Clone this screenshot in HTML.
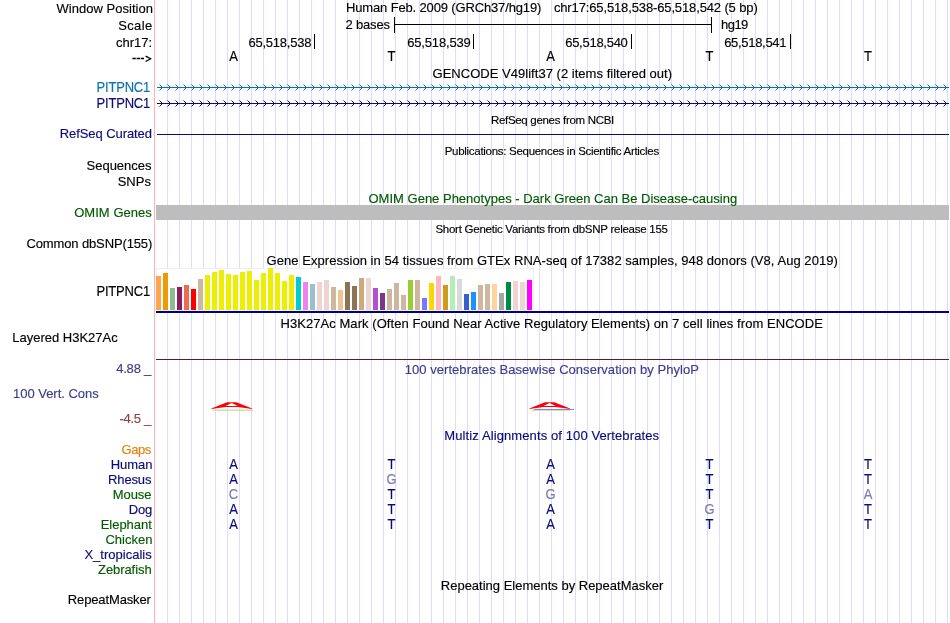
<!DOCTYPE html>
<html><head><meta charset="utf-8"><title>UCSC Genome Browser</title>
<style>
html,body{margin:0;padding:0;background:#fff;}
body{width:950px;height:623px;overflow:hidden;position:relative;}
svg{position:absolute;left:0;top:0;display:block;will-change:transform;}
text{font-family:"Liberation Sans",sans-serif;stroke-width:0.15px;}
</style></head><body>
<svg width="950" height="623" viewBox="0 0 950 623">
<rect x="167" y="0" width="1" height="623" fill="#dcdcff"/>
<rect x="179" y="0" width="1" height="623" fill="#dcdcff"/>
<rect x="191" y="0" width="1" height="623" fill="#dcdcff"/>
<rect x="203" y="0" width="1" height="623" fill="#dcdcff"/>
<rect x="215" y="0" width="1" height="623" fill="#dcdcff"/>
<rect x="227" y="0" width="1" height="623" fill="#dcdcff"/>
<rect x="239" y="0" width="1" height="623" fill="#dcdcff"/>
<rect x="251" y="0" width="1" height="623" fill="#dcdcff"/>
<rect x="263" y="0" width="1" height="623" fill="#dcdcff"/>
<rect x="275" y="0" width="1" height="623" fill="#dcdcff"/>
<rect x="287" y="0" width="1" height="623" fill="#dcdcff"/>
<rect x="299" y="0" width="1" height="623" fill="#dcdcff"/>
<rect x="311" y="0" width="1" height="623" fill="#dcdcff"/>
<rect x="323" y="0" width="1" height="623" fill="#dcdcff"/>
<rect x="335" y="0" width="1" height="623" fill="#dcdcff"/>
<rect x="347" y="0" width="1" height="623" fill="#dcdcff"/>
<rect x="359" y="0" width="1" height="623" fill="#dcdcff"/>
<rect x="371" y="0" width="1" height="623" fill="#dcdcff"/>
<rect x="383" y="0" width="1" height="623" fill="#dcdcff"/>
<rect x="395" y="0" width="1" height="623" fill="#dcdcff"/>
<rect x="407" y="0" width="1" height="623" fill="#dcdcff"/>
<rect x="419" y="0" width="1" height="623" fill="#dcdcff"/>
<rect x="431" y="0" width="1" height="623" fill="#dcdcff"/>
<rect x="443" y="0" width="1" height="623" fill="#dcdcff"/>
<rect x="455" y="0" width="1" height="623" fill="#dcdcff"/>
<rect x="467" y="0" width="1" height="623" fill="#dcdcff"/>
<rect x="479" y="0" width="1" height="623" fill="#dcdcff"/>
<rect x="491" y="0" width="1" height="623" fill="#dcdcff"/>
<rect x="503" y="0" width="1" height="623" fill="#dcdcff"/>
<rect x="515" y="0" width="1" height="623" fill="#dcdcff"/>
<rect x="527" y="0" width="1" height="623" fill="#dcdcff"/>
<rect x="539" y="0" width="1" height="623" fill="#dcdcff"/>
<rect x="551" y="0" width="1" height="623" fill="#dcdcff"/>
<rect x="563" y="0" width="1" height="623" fill="#dcdcff"/>
<rect x="575" y="0" width="1" height="623" fill="#dcdcff"/>
<rect x="587" y="0" width="1" height="623" fill="#dcdcff"/>
<rect x="599" y="0" width="1" height="623" fill="#dcdcff"/>
<rect x="611" y="0" width="1" height="623" fill="#dcdcff"/>
<rect x="623" y="0" width="1" height="623" fill="#dcdcff"/>
<rect x="635" y="0" width="1" height="623" fill="#dcdcff"/>
<rect x="647" y="0" width="1" height="623" fill="#dcdcff"/>
<rect x="659" y="0" width="1" height="623" fill="#dcdcff"/>
<rect x="671" y="0" width="1" height="623" fill="#dcdcff"/>
<rect x="683" y="0" width="1" height="623" fill="#dcdcff"/>
<rect x="695" y="0" width="1" height="623" fill="#dcdcff"/>
<rect x="707" y="0" width="1" height="623" fill="#dcdcff"/>
<rect x="719" y="0" width="1" height="623" fill="#dcdcff"/>
<rect x="731" y="0" width="1" height="623" fill="#dcdcff"/>
<rect x="743" y="0" width="1" height="623" fill="#dcdcff"/>
<rect x="755" y="0" width="1" height="623" fill="#dcdcff"/>
<rect x="767" y="0" width="1" height="623" fill="#dcdcff"/>
<rect x="779" y="0" width="1" height="623" fill="#dcdcff"/>
<rect x="791" y="0" width="1" height="623" fill="#dcdcff"/>
<rect x="803" y="0" width="1" height="623" fill="#dcdcff"/>
<rect x="815" y="0" width="1" height="623" fill="#dcdcff"/>
<rect x="827" y="0" width="1" height="623" fill="#dcdcff"/>
<rect x="839" y="0" width="1" height="623" fill="#dcdcff"/>
<rect x="851" y="0" width="1" height="623" fill="#dcdcff"/>
<rect x="863" y="0" width="1" height="623" fill="#dcdcff"/>
<rect x="875" y="0" width="1" height="623" fill="#dcdcff"/>
<rect x="887" y="0" width="1" height="623" fill="#dcdcff"/>
<rect x="899" y="0" width="1" height="623" fill="#dcdcff"/>
<rect x="911" y="0" width="1" height="623" fill="#dcdcff"/>
<rect x="923" y="0" width="1" height="623" fill="#dcdcff"/>
<rect x="935" y="0" width="1" height="623" fill="#dcdcff"/>
<rect x="947" y="0" width="1" height="623" fill="#dcdcff"/>
<rect x="154" y="0" width="1" height="623" fill="#ffb0b0"/>
<path d="M132.4,58.5h3.4M136.6,58.5h3.4M140.7,58.5h3.3" stroke="#000" stroke-width="1.3"/>
<path d="M145.6,56.1L150.6,58.8L145.6,61.5" stroke="#000" stroke-width="1.3" fill="none"/>
<rect x="394" y="17" width="1" height="16" fill="#000000"/>
<rect x="711" y="17" width="1" height="16" fill="#000000"/>
<rect x="394" y="24" width="318" height="1" fill="#000000"/>
<rect x="314" y="34" width="1" height="15" fill="#000000"/>
<rect x="473" y="34" width="1" height="15" fill="#000000"/>
<rect x="631" y="34" width="1" height="15" fill="#000000"/>
<rect x="790" y="34" width="1" height="15" fill="#000000"/>
<rect x="157" y="87" width="792" height="1" fill="#0c70b4"/>
<path d="M160,85h1v1h-1zM161,86h1v3h-1zM160,89h1v1h-1zM168,85h1v1h-1zM169,86h1v3h-1zM168,89h1v1h-1zM176,85h1v1h-1zM177,86h1v3h-1zM176,89h1v1h-1zM184,85h1v1h-1zM185,86h1v3h-1zM184,89h1v1h-1zM192,85h1v1h-1zM193,86h1v3h-1zM192,89h1v1h-1zM200,85h1v1h-1zM201,86h1v3h-1zM200,89h1v1h-1zM208,85h1v1h-1zM209,86h1v3h-1zM208,89h1v1h-1zM216,85h1v1h-1zM217,86h1v3h-1zM216,89h1v1h-1zM224,85h1v1h-1zM225,86h1v3h-1zM224,89h1v1h-1zM232,85h1v1h-1zM233,86h1v3h-1zM232,89h1v1h-1zM240,85h1v1h-1zM241,86h1v3h-1zM240,89h1v1h-1zM248,85h1v1h-1zM249,86h1v3h-1zM248,89h1v1h-1zM256,85h1v1h-1zM257,86h1v3h-1zM256,89h1v1h-1zM264,85h1v1h-1zM265,86h1v3h-1zM264,89h1v1h-1zM272,85h1v1h-1zM273,86h1v3h-1zM272,89h1v1h-1zM280,85h1v1h-1zM281,86h1v3h-1zM280,89h1v1h-1zM288,85h1v1h-1zM289,86h1v3h-1zM288,89h1v1h-1zM296,85h1v1h-1zM297,86h1v3h-1zM296,89h1v1h-1zM304,85h1v1h-1zM305,86h1v3h-1zM304,89h1v1h-1zM312,85h1v1h-1zM313,86h1v3h-1zM312,89h1v1h-1zM320,85h1v1h-1zM321,86h1v3h-1zM320,89h1v1h-1zM328,85h1v1h-1zM329,86h1v3h-1zM328,89h1v1h-1zM336,85h1v1h-1zM337,86h1v3h-1zM336,89h1v1h-1zM344,85h1v1h-1zM345,86h1v3h-1zM344,89h1v1h-1zM352,85h1v1h-1zM353,86h1v3h-1zM352,89h1v1h-1zM360,85h1v1h-1zM361,86h1v3h-1zM360,89h1v1h-1zM368,85h1v1h-1zM369,86h1v3h-1zM368,89h1v1h-1zM376,85h1v1h-1zM377,86h1v3h-1zM376,89h1v1h-1zM384,85h1v1h-1zM385,86h1v3h-1zM384,89h1v1h-1zM392,85h1v1h-1zM393,86h1v3h-1zM392,89h1v1h-1zM400,85h1v1h-1zM401,86h1v3h-1zM400,89h1v1h-1zM408,85h1v1h-1zM409,86h1v3h-1zM408,89h1v1h-1zM416,85h1v1h-1zM417,86h1v3h-1zM416,89h1v1h-1zM424,85h1v1h-1zM425,86h1v3h-1zM424,89h1v1h-1zM432,85h1v1h-1zM433,86h1v3h-1zM432,89h1v1h-1zM440,85h1v1h-1zM441,86h1v3h-1zM440,89h1v1h-1zM448,85h1v1h-1zM449,86h1v3h-1zM448,89h1v1h-1zM456,85h1v1h-1zM457,86h1v3h-1zM456,89h1v1h-1zM464,85h1v1h-1zM465,86h1v3h-1zM464,89h1v1h-1zM472,85h1v1h-1zM473,86h1v3h-1zM472,89h1v1h-1zM480,85h1v1h-1zM481,86h1v3h-1zM480,89h1v1h-1zM488,85h1v1h-1zM489,86h1v3h-1zM488,89h1v1h-1zM496,85h1v1h-1zM497,86h1v3h-1zM496,89h1v1h-1zM504,85h1v1h-1zM505,86h1v3h-1zM504,89h1v1h-1zM512,85h1v1h-1zM513,86h1v3h-1zM512,89h1v1h-1zM520,85h1v1h-1zM521,86h1v3h-1zM520,89h1v1h-1zM528,85h1v1h-1zM529,86h1v3h-1zM528,89h1v1h-1zM536,85h1v1h-1zM537,86h1v3h-1zM536,89h1v1h-1zM544,85h1v1h-1zM545,86h1v3h-1zM544,89h1v1h-1zM552,85h1v1h-1zM553,86h1v3h-1zM552,89h1v1h-1zM560,85h1v1h-1zM561,86h1v3h-1zM560,89h1v1h-1zM568,85h1v1h-1zM569,86h1v3h-1zM568,89h1v1h-1zM576,85h1v1h-1zM577,86h1v3h-1zM576,89h1v1h-1zM584,85h1v1h-1zM585,86h1v3h-1zM584,89h1v1h-1zM592,85h1v1h-1zM593,86h1v3h-1zM592,89h1v1h-1zM600,85h1v1h-1zM601,86h1v3h-1zM600,89h1v1h-1zM608,85h1v1h-1zM609,86h1v3h-1zM608,89h1v1h-1zM616,85h1v1h-1zM617,86h1v3h-1zM616,89h1v1h-1zM624,85h1v1h-1zM625,86h1v3h-1zM624,89h1v1h-1zM632,85h1v1h-1zM633,86h1v3h-1zM632,89h1v1h-1zM640,85h1v1h-1zM641,86h1v3h-1zM640,89h1v1h-1zM648,85h1v1h-1zM649,86h1v3h-1zM648,89h1v1h-1zM656,85h1v1h-1zM657,86h1v3h-1zM656,89h1v1h-1zM664,85h1v1h-1zM665,86h1v3h-1zM664,89h1v1h-1zM672,85h1v1h-1zM673,86h1v3h-1zM672,89h1v1h-1zM680,85h1v1h-1zM681,86h1v3h-1zM680,89h1v1h-1zM688,85h1v1h-1zM689,86h1v3h-1zM688,89h1v1h-1zM696,85h1v1h-1zM697,86h1v3h-1zM696,89h1v1h-1zM704,85h1v1h-1zM705,86h1v3h-1zM704,89h1v1h-1zM712,85h1v1h-1zM713,86h1v3h-1zM712,89h1v1h-1zM720,85h1v1h-1zM721,86h1v3h-1zM720,89h1v1h-1zM728,85h1v1h-1zM729,86h1v3h-1zM728,89h1v1h-1zM736,85h1v1h-1zM737,86h1v3h-1zM736,89h1v1h-1zM744,85h1v1h-1zM745,86h1v3h-1zM744,89h1v1h-1zM752,85h1v1h-1zM753,86h1v3h-1zM752,89h1v1h-1zM760,85h1v1h-1zM761,86h1v3h-1zM760,89h1v1h-1zM768,85h1v1h-1zM769,86h1v3h-1zM768,89h1v1h-1zM776,85h1v1h-1zM777,86h1v3h-1zM776,89h1v1h-1zM784,85h1v1h-1zM785,86h1v3h-1zM784,89h1v1h-1zM792,85h1v1h-1zM793,86h1v3h-1zM792,89h1v1h-1zM800,85h1v1h-1zM801,86h1v3h-1zM800,89h1v1h-1zM808,85h1v1h-1zM809,86h1v3h-1zM808,89h1v1h-1zM816,85h1v1h-1zM817,86h1v3h-1zM816,89h1v1h-1zM824,85h1v1h-1zM825,86h1v3h-1zM824,89h1v1h-1zM832,85h1v1h-1zM833,86h1v3h-1zM832,89h1v1h-1zM840,85h1v1h-1zM841,86h1v3h-1zM840,89h1v1h-1zM848,85h1v1h-1zM849,86h1v3h-1zM848,89h1v1h-1zM856,85h1v1h-1zM857,86h1v3h-1zM856,89h1v1h-1zM864,85h1v1h-1zM865,86h1v3h-1zM864,89h1v1h-1zM872,85h1v1h-1zM873,86h1v3h-1zM872,89h1v1h-1zM880,85h1v1h-1zM881,86h1v3h-1zM880,89h1v1h-1zM888,85h1v1h-1zM889,86h1v3h-1zM888,89h1v1h-1zM896,85h1v1h-1zM897,86h1v3h-1zM896,89h1v1h-1zM904,85h1v1h-1zM905,86h1v3h-1zM904,89h1v1h-1zM912,85h1v1h-1zM913,86h1v3h-1zM912,89h1v1h-1zM920,85h1v1h-1zM921,86h1v3h-1zM920,89h1v1h-1zM928,85h1v1h-1zM929,86h1v3h-1zM928,89h1v1h-1zM936,85h1v1h-1zM937,86h1v3h-1zM936,89h1v1h-1zM944,85h1v1h-1zM945,86h1v3h-1zM944,89h1v1h-1z" fill="#0c70b4"/>
<path d="M159,84h1v1h-1zM159,90h1v1h-1zM167,84h1v1h-1zM167,90h1v1h-1zM175,84h1v1h-1zM175,90h1v1h-1zM183,84h1v1h-1zM183,90h1v1h-1zM191,84h1v1h-1zM191,90h1v1h-1zM199,84h1v1h-1zM199,90h1v1h-1zM207,84h1v1h-1zM207,90h1v1h-1zM215,84h1v1h-1zM215,90h1v1h-1zM223,84h1v1h-1zM223,90h1v1h-1zM231,84h1v1h-1zM231,90h1v1h-1zM239,84h1v1h-1zM239,90h1v1h-1zM247,84h1v1h-1zM247,90h1v1h-1zM255,84h1v1h-1zM255,90h1v1h-1zM263,84h1v1h-1zM263,90h1v1h-1zM271,84h1v1h-1zM271,90h1v1h-1zM279,84h1v1h-1zM279,90h1v1h-1zM287,84h1v1h-1zM287,90h1v1h-1zM295,84h1v1h-1zM295,90h1v1h-1zM303,84h1v1h-1zM303,90h1v1h-1zM311,84h1v1h-1zM311,90h1v1h-1zM319,84h1v1h-1zM319,90h1v1h-1zM327,84h1v1h-1zM327,90h1v1h-1zM335,84h1v1h-1zM335,90h1v1h-1zM343,84h1v1h-1zM343,90h1v1h-1zM351,84h1v1h-1zM351,90h1v1h-1zM359,84h1v1h-1zM359,90h1v1h-1zM367,84h1v1h-1zM367,90h1v1h-1zM375,84h1v1h-1zM375,90h1v1h-1zM383,84h1v1h-1zM383,90h1v1h-1zM391,84h1v1h-1zM391,90h1v1h-1zM399,84h1v1h-1zM399,90h1v1h-1zM407,84h1v1h-1zM407,90h1v1h-1zM415,84h1v1h-1zM415,90h1v1h-1zM423,84h1v1h-1zM423,90h1v1h-1zM431,84h1v1h-1zM431,90h1v1h-1zM439,84h1v1h-1zM439,90h1v1h-1zM447,84h1v1h-1zM447,90h1v1h-1zM455,84h1v1h-1zM455,90h1v1h-1zM463,84h1v1h-1zM463,90h1v1h-1zM471,84h1v1h-1zM471,90h1v1h-1zM479,84h1v1h-1zM479,90h1v1h-1zM487,84h1v1h-1zM487,90h1v1h-1zM495,84h1v1h-1zM495,90h1v1h-1zM503,84h1v1h-1zM503,90h1v1h-1zM511,84h1v1h-1zM511,90h1v1h-1zM519,84h1v1h-1zM519,90h1v1h-1zM527,84h1v1h-1zM527,90h1v1h-1zM535,84h1v1h-1zM535,90h1v1h-1zM543,84h1v1h-1zM543,90h1v1h-1zM551,84h1v1h-1zM551,90h1v1h-1zM559,84h1v1h-1zM559,90h1v1h-1zM567,84h1v1h-1zM567,90h1v1h-1zM575,84h1v1h-1zM575,90h1v1h-1zM583,84h1v1h-1zM583,90h1v1h-1zM591,84h1v1h-1zM591,90h1v1h-1zM599,84h1v1h-1zM599,90h1v1h-1zM607,84h1v1h-1zM607,90h1v1h-1zM615,84h1v1h-1zM615,90h1v1h-1zM623,84h1v1h-1zM623,90h1v1h-1zM631,84h1v1h-1zM631,90h1v1h-1zM639,84h1v1h-1zM639,90h1v1h-1zM647,84h1v1h-1zM647,90h1v1h-1zM655,84h1v1h-1zM655,90h1v1h-1zM663,84h1v1h-1zM663,90h1v1h-1zM671,84h1v1h-1zM671,90h1v1h-1zM679,84h1v1h-1zM679,90h1v1h-1zM687,84h1v1h-1zM687,90h1v1h-1zM695,84h1v1h-1zM695,90h1v1h-1zM703,84h1v1h-1zM703,90h1v1h-1zM711,84h1v1h-1zM711,90h1v1h-1zM719,84h1v1h-1zM719,90h1v1h-1zM727,84h1v1h-1zM727,90h1v1h-1zM735,84h1v1h-1zM735,90h1v1h-1zM743,84h1v1h-1zM743,90h1v1h-1zM751,84h1v1h-1zM751,90h1v1h-1zM759,84h1v1h-1zM759,90h1v1h-1zM767,84h1v1h-1zM767,90h1v1h-1zM775,84h1v1h-1zM775,90h1v1h-1zM783,84h1v1h-1zM783,90h1v1h-1zM791,84h1v1h-1zM791,90h1v1h-1zM799,84h1v1h-1zM799,90h1v1h-1zM807,84h1v1h-1zM807,90h1v1h-1zM815,84h1v1h-1zM815,90h1v1h-1zM823,84h1v1h-1zM823,90h1v1h-1zM831,84h1v1h-1zM831,90h1v1h-1zM839,84h1v1h-1zM839,90h1v1h-1zM847,84h1v1h-1zM847,90h1v1h-1zM855,84h1v1h-1zM855,90h1v1h-1zM863,84h1v1h-1zM863,90h1v1h-1zM871,84h1v1h-1zM871,90h1v1h-1zM879,84h1v1h-1zM879,90h1v1h-1zM887,84h1v1h-1zM887,90h1v1h-1zM895,84h1v1h-1zM895,90h1v1h-1zM903,84h1v1h-1zM903,90h1v1h-1zM911,84h1v1h-1zM911,90h1v1h-1zM919,84h1v1h-1zM919,90h1v1h-1zM927,84h1v1h-1zM927,90h1v1h-1zM935,84h1v1h-1zM935,90h1v1h-1zM943,84h1v1h-1zM943,90h1v1h-1z" fill="#0c70b4" fill-opacity="0.5"/>
<rect x="157" y="103" width="792" height="1" fill="#0c0c78"/>
<path d="M160,101h1v1h-1zM161,102h1v3h-1zM160,105h1v1h-1zM168,101h1v1h-1zM169,102h1v3h-1zM168,105h1v1h-1zM176,101h1v1h-1zM177,102h1v3h-1zM176,105h1v1h-1zM184,101h1v1h-1zM185,102h1v3h-1zM184,105h1v1h-1zM192,101h1v1h-1zM193,102h1v3h-1zM192,105h1v1h-1zM200,101h1v1h-1zM201,102h1v3h-1zM200,105h1v1h-1zM208,101h1v1h-1zM209,102h1v3h-1zM208,105h1v1h-1zM216,101h1v1h-1zM217,102h1v3h-1zM216,105h1v1h-1zM224,101h1v1h-1zM225,102h1v3h-1zM224,105h1v1h-1zM232,101h1v1h-1zM233,102h1v3h-1zM232,105h1v1h-1zM240,101h1v1h-1zM241,102h1v3h-1zM240,105h1v1h-1zM248,101h1v1h-1zM249,102h1v3h-1zM248,105h1v1h-1zM256,101h1v1h-1zM257,102h1v3h-1zM256,105h1v1h-1zM264,101h1v1h-1zM265,102h1v3h-1zM264,105h1v1h-1zM272,101h1v1h-1zM273,102h1v3h-1zM272,105h1v1h-1zM280,101h1v1h-1zM281,102h1v3h-1zM280,105h1v1h-1zM288,101h1v1h-1zM289,102h1v3h-1zM288,105h1v1h-1zM296,101h1v1h-1zM297,102h1v3h-1zM296,105h1v1h-1zM304,101h1v1h-1zM305,102h1v3h-1zM304,105h1v1h-1zM312,101h1v1h-1zM313,102h1v3h-1zM312,105h1v1h-1zM320,101h1v1h-1zM321,102h1v3h-1zM320,105h1v1h-1zM328,101h1v1h-1zM329,102h1v3h-1zM328,105h1v1h-1zM336,101h1v1h-1zM337,102h1v3h-1zM336,105h1v1h-1zM344,101h1v1h-1zM345,102h1v3h-1zM344,105h1v1h-1zM352,101h1v1h-1zM353,102h1v3h-1zM352,105h1v1h-1zM360,101h1v1h-1zM361,102h1v3h-1zM360,105h1v1h-1zM368,101h1v1h-1zM369,102h1v3h-1zM368,105h1v1h-1zM376,101h1v1h-1zM377,102h1v3h-1zM376,105h1v1h-1zM384,101h1v1h-1zM385,102h1v3h-1zM384,105h1v1h-1zM392,101h1v1h-1zM393,102h1v3h-1zM392,105h1v1h-1zM400,101h1v1h-1zM401,102h1v3h-1zM400,105h1v1h-1zM408,101h1v1h-1zM409,102h1v3h-1zM408,105h1v1h-1zM416,101h1v1h-1zM417,102h1v3h-1zM416,105h1v1h-1zM424,101h1v1h-1zM425,102h1v3h-1zM424,105h1v1h-1zM432,101h1v1h-1zM433,102h1v3h-1zM432,105h1v1h-1zM440,101h1v1h-1zM441,102h1v3h-1zM440,105h1v1h-1zM448,101h1v1h-1zM449,102h1v3h-1zM448,105h1v1h-1zM456,101h1v1h-1zM457,102h1v3h-1zM456,105h1v1h-1zM464,101h1v1h-1zM465,102h1v3h-1zM464,105h1v1h-1zM472,101h1v1h-1zM473,102h1v3h-1zM472,105h1v1h-1zM480,101h1v1h-1zM481,102h1v3h-1zM480,105h1v1h-1zM488,101h1v1h-1zM489,102h1v3h-1zM488,105h1v1h-1zM496,101h1v1h-1zM497,102h1v3h-1zM496,105h1v1h-1zM504,101h1v1h-1zM505,102h1v3h-1zM504,105h1v1h-1zM512,101h1v1h-1zM513,102h1v3h-1zM512,105h1v1h-1zM520,101h1v1h-1zM521,102h1v3h-1zM520,105h1v1h-1zM528,101h1v1h-1zM529,102h1v3h-1zM528,105h1v1h-1zM536,101h1v1h-1zM537,102h1v3h-1zM536,105h1v1h-1zM544,101h1v1h-1zM545,102h1v3h-1zM544,105h1v1h-1zM552,101h1v1h-1zM553,102h1v3h-1zM552,105h1v1h-1zM560,101h1v1h-1zM561,102h1v3h-1zM560,105h1v1h-1zM568,101h1v1h-1zM569,102h1v3h-1zM568,105h1v1h-1zM576,101h1v1h-1zM577,102h1v3h-1zM576,105h1v1h-1zM584,101h1v1h-1zM585,102h1v3h-1zM584,105h1v1h-1zM592,101h1v1h-1zM593,102h1v3h-1zM592,105h1v1h-1zM600,101h1v1h-1zM601,102h1v3h-1zM600,105h1v1h-1zM608,101h1v1h-1zM609,102h1v3h-1zM608,105h1v1h-1zM616,101h1v1h-1zM617,102h1v3h-1zM616,105h1v1h-1zM624,101h1v1h-1zM625,102h1v3h-1zM624,105h1v1h-1zM632,101h1v1h-1zM633,102h1v3h-1zM632,105h1v1h-1zM640,101h1v1h-1zM641,102h1v3h-1zM640,105h1v1h-1zM648,101h1v1h-1zM649,102h1v3h-1zM648,105h1v1h-1zM656,101h1v1h-1zM657,102h1v3h-1zM656,105h1v1h-1zM664,101h1v1h-1zM665,102h1v3h-1zM664,105h1v1h-1zM672,101h1v1h-1zM673,102h1v3h-1zM672,105h1v1h-1zM680,101h1v1h-1zM681,102h1v3h-1zM680,105h1v1h-1zM688,101h1v1h-1zM689,102h1v3h-1zM688,105h1v1h-1zM696,101h1v1h-1zM697,102h1v3h-1zM696,105h1v1h-1zM704,101h1v1h-1zM705,102h1v3h-1zM704,105h1v1h-1zM712,101h1v1h-1zM713,102h1v3h-1zM712,105h1v1h-1zM720,101h1v1h-1zM721,102h1v3h-1zM720,105h1v1h-1zM728,101h1v1h-1zM729,102h1v3h-1zM728,105h1v1h-1zM736,101h1v1h-1zM737,102h1v3h-1zM736,105h1v1h-1zM744,101h1v1h-1zM745,102h1v3h-1zM744,105h1v1h-1zM752,101h1v1h-1zM753,102h1v3h-1zM752,105h1v1h-1zM760,101h1v1h-1zM761,102h1v3h-1zM760,105h1v1h-1zM768,101h1v1h-1zM769,102h1v3h-1zM768,105h1v1h-1zM776,101h1v1h-1zM777,102h1v3h-1zM776,105h1v1h-1zM784,101h1v1h-1zM785,102h1v3h-1zM784,105h1v1h-1zM792,101h1v1h-1zM793,102h1v3h-1zM792,105h1v1h-1zM800,101h1v1h-1zM801,102h1v3h-1zM800,105h1v1h-1zM808,101h1v1h-1zM809,102h1v3h-1zM808,105h1v1h-1zM816,101h1v1h-1zM817,102h1v3h-1zM816,105h1v1h-1zM824,101h1v1h-1zM825,102h1v3h-1zM824,105h1v1h-1zM832,101h1v1h-1zM833,102h1v3h-1zM832,105h1v1h-1zM840,101h1v1h-1zM841,102h1v3h-1zM840,105h1v1h-1zM848,101h1v1h-1zM849,102h1v3h-1zM848,105h1v1h-1zM856,101h1v1h-1zM857,102h1v3h-1zM856,105h1v1h-1zM864,101h1v1h-1zM865,102h1v3h-1zM864,105h1v1h-1zM872,101h1v1h-1zM873,102h1v3h-1zM872,105h1v1h-1zM880,101h1v1h-1zM881,102h1v3h-1zM880,105h1v1h-1zM888,101h1v1h-1zM889,102h1v3h-1zM888,105h1v1h-1zM896,101h1v1h-1zM897,102h1v3h-1zM896,105h1v1h-1zM904,101h1v1h-1zM905,102h1v3h-1zM904,105h1v1h-1zM912,101h1v1h-1zM913,102h1v3h-1zM912,105h1v1h-1zM920,101h1v1h-1zM921,102h1v3h-1zM920,105h1v1h-1zM928,101h1v1h-1zM929,102h1v3h-1zM928,105h1v1h-1zM936,101h1v1h-1zM937,102h1v3h-1zM936,105h1v1h-1zM944,101h1v1h-1zM945,102h1v3h-1zM944,105h1v1h-1z" fill="#0c0c78"/>
<path d="M159,100h1v1h-1zM159,106h1v1h-1zM167,100h1v1h-1zM167,106h1v1h-1zM175,100h1v1h-1zM175,106h1v1h-1zM183,100h1v1h-1zM183,106h1v1h-1zM191,100h1v1h-1zM191,106h1v1h-1zM199,100h1v1h-1zM199,106h1v1h-1zM207,100h1v1h-1zM207,106h1v1h-1zM215,100h1v1h-1zM215,106h1v1h-1zM223,100h1v1h-1zM223,106h1v1h-1zM231,100h1v1h-1zM231,106h1v1h-1zM239,100h1v1h-1zM239,106h1v1h-1zM247,100h1v1h-1zM247,106h1v1h-1zM255,100h1v1h-1zM255,106h1v1h-1zM263,100h1v1h-1zM263,106h1v1h-1zM271,100h1v1h-1zM271,106h1v1h-1zM279,100h1v1h-1zM279,106h1v1h-1zM287,100h1v1h-1zM287,106h1v1h-1zM295,100h1v1h-1zM295,106h1v1h-1zM303,100h1v1h-1zM303,106h1v1h-1zM311,100h1v1h-1zM311,106h1v1h-1zM319,100h1v1h-1zM319,106h1v1h-1zM327,100h1v1h-1zM327,106h1v1h-1zM335,100h1v1h-1zM335,106h1v1h-1zM343,100h1v1h-1zM343,106h1v1h-1zM351,100h1v1h-1zM351,106h1v1h-1zM359,100h1v1h-1zM359,106h1v1h-1zM367,100h1v1h-1zM367,106h1v1h-1zM375,100h1v1h-1zM375,106h1v1h-1zM383,100h1v1h-1zM383,106h1v1h-1zM391,100h1v1h-1zM391,106h1v1h-1zM399,100h1v1h-1zM399,106h1v1h-1zM407,100h1v1h-1zM407,106h1v1h-1zM415,100h1v1h-1zM415,106h1v1h-1zM423,100h1v1h-1zM423,106h1v1h-1zM431,100h1v1h-1zM431,106h1v1h-1zM439,100h1v1h-1zM439,106h1v1h-1zM447,100h1v1h-1zM447,106h1v1h-1zM455,100h1v1h-1zM455,106h1v1h-1zM463,100h1v1h-1zM463,106h1v1h-1zM471,100h1v1h-1zM471,106h1v1h-1zM479,100h1v1h-1zM479,106h1v1h-1zM487,100h1v1h-1zM487,106h1v1h-1zM495,100h1v1h-1zM495,106h1v1h-1zM503,100h1v1h-1zM503,106h1v1h-1zM511,100h1v1h-1zM511,106h1v1h-1zM519,100h1v1h-1zM519,106h1v1h-1zM527,100h1v1h-1zM527,106h1v1h-1zM535,100h1v1h-1zM535,106h1v1h-1zM543,100h1v1h-1zM543,106h1v1h-1zM551,100h1v1h-1zM551,106h1v1h-1zM559,100h1v1h-1zM559,106h1v1h-1zM567,100h1v1h-1zM567,106h1v1h-1zM575,100h1v1h-1zM575,106h1v1h-1zM583,100h1v1h-1zM583,106h1v1h-1zM591,100h1v1h-1zM591,106h1v1h-1zM599,100h1v1h-1zM599,106h1v1h-1zM607,100h1v1h-1zM607,106h1v1h-1zM615,100h1v1h-1zM615,106h1v1h-1zM623,100h1v1h-1zM623,106h1v1h-1zM631,100h1v1h-1zM631,106h1v1h-1zM639,100h1v1h-1zM639,106h1v1h-1zM647,100h1v1h-1zM647,106h1v1h-1zM655,100h1v1h-1zM655,106h1v1h-1zM663,100h1v1h-1zM663,106h1v1h-1zM671,100h1v1h-1zM671,106h1v1h-1zM679,100h1v1h-1zM679,106h1v1h-1zM687,100h1v1h-1zM687,106h1v1h-1zM695,100h1v1h-1zM695,106h1v1h-1zM703,100h1v1h-1zM703,106h1v1h-1zM711,100h1v1h-1zM711,106h1v1h-1zM719,100h1v1h-1zM719,106h1v1h-1zM727,100h1v1h-1zM727,106h1v1h-1zM735,100h1v1h-1zM735,106h1v1h-1zM743,100h1v1h-1zM743,106h1v1h-1zM751,100h1v1h-1zM751,106h1v1h-1zM759,100h1v1h-1zM759,106h1v1h-1zM767,100h1v1h-1zM767,106h1v1h-1zM775,100h1v1h-1zM775,106h1v1h-1zM783,100h1v1h-1zM783,106h1v1h-1zM791,100h1v1h-1zM791,106h1v1h-1zM799,100h1v1h-1zM799,106h1v1h-1zM807,100h1v1h-1zM807,106h1v1h-1zM815,100h1v1h-1zM815,106h1v1h-1zM823,100h1v1h-1zM823,106h1v1h-1zM831,100h1v1h-1zM831,106h1v1h-1zM839,100h1v1h-1zM839,106h1v1h-1zM847,100h1v1h-1zM847,106h1v1h-1zM855,100h1v1h-1zM855,106h1v1h-1zM863,100h1v1h-1zM863,106h1v1h-1zM871,100h1v1h-1zM871,106h1v1h-1zM879,100h1v1h-1zM879,106h1v1h-1zM887,100h1v1h-1zM887,106h1v1h-1zM895,100h1v1h-1zM895,106h1v1h-1zM903,100h1v1h-1zM903,106h1v1h-1zM911,100h1v1h-1zM911,106h1v1h-1zM919,100h1v1h-1zM919,106h1v1h-1zM927,100h1v1h-1zM927,106h1v1h-1zM935,100h1v1h-1zM935,106h1v1h-1zM943,100h1v1h-1zM943,106h1v1h-1z" fill="#0c0c78" fill-opacity="0.5"/>
<rect x="157" y="134" width="792" height="1" fill="#0c0c78"/>
<rect x="156" y="205" width="793" height="15" fill="#bdbdbd"/>
<rect x="156.5" y="268.5" width="377" height="42" fill="#fff" stroke="#eeeeee" stroke-width="1"/>
<rect x="156" y="276" width="5" height="34" fill="#FFA54F"/>
<rect x="163" y="273" width="5" height="37" fill="#EE9A00"/>
<rect x="170" y="288" width="5" height="22" fill="#8FBC8F"/>
<rect x="177" y="287" width="5" height="23" fill="#8B1C62"/>
<rect x="184" y="285" width="5" height="25" fill="#EE6A50"/>
<rect x="191" y="289" width="5" height="21" fill="#FF0000"/>
<rect x="198" y="279" width="5" height="31" fill="#CDB79E"/>
<rect x="205" y="275" width="5" height="35" fill="#EEEE00"/>
<rect x="212" y="272" width="5" height="38" fill="#EEEE00"/>
<rect x="219" y="270" width="5" height="40" fill="#EEEE00"/>
<rect x="226" y="274" width="5" height="36" fill="#EEEE00"/>
<rect x="233" y="275" width="5" height="35" fill="#EEEE00"/>
<rect x="240" y="272" width="5" height="38" fill="#EEEE00"/>
<rect x="247" y="271" width="5" height="39" fill="#EEEE00"/>
<rect x="254" y="280" width="5" height="30" fill="#EEEE00"/>
<rect x="261" y="273" width="5" height="37" fill="#EEEE00"/>
<rect x="268" y="268" width="5" height="42" fill="#EEEE00"/>
<rect x="275" y="273" width="5" height="37" fill="#EEEE00"/>
<rect x="282" y="281" width="5" height="29" fill="#EEEE00"/>
<rect x="289" y="275" width="5" height="35" fill="#EEEE00"/>
<rect x="296" y="277" width="5" height="33" fill="#00CDCD"/>
<rect x="303" y="282" width="5" height="28" fill="#EE82EE"/>
<rect x="310" y="284" width="5" height="26" fill="#9AC0CD"/>
<rect x="317" y="282" width="5" height="28" fill="#EED5D2"/>
<rect x="324" y="280" width="5" height="30" fill="#EED5D2"/>
<rect x="331" y="287" width="5" height="23" fill="#CDB79E"/>
<rect x="338" y="290" width="5" height="20" fill="#EEC591"/>
<rect x="345" y="282" width="5" height="28" fill="#8B7355"/>
<rect x="352" y="286" width="5" height="24" fill="#8B7355"/>
<rect x="359" y="278" width="5" height="32" fill="#CDAA7D"/>
<rect x="366" y="278" width="5" height="32" fill="#EED5D2"/>
<rect x="373" y="288" width="5" height="22" fill="#B452CD"/>
<rect x="380" y="293" width="5" height="17" fill="#7A378B"/>
<rect x="387" y="289" width="5" height="21" fill="#CDB79E"/>
<rect x="394" y="283" width="5" height="27" fill="#CDB79E"/>
<rect x="401" y="295" width="5" height="15" fill="#CDB79E"/>
<rect x="408" y="280" width="5" height="30" fill="#9ACD32"/>
<rect x="415" y="280" width="5" height="30" fill="#CDB79E"/>
<rect x="422" y="298" width="5" height="12" fill="#7777FF"/>
<rect x="429" y="283" width="5" height="27" fill="#FFD700"/>
<rect x="436" y="276" width="5" height="34" fill="#FFB6C1"/>
<rect x="443" y="285" width="5" height="25" fill="#CD9B1D"/>
<rect x="450" y="276" width="5" height="34" fill="#B4EEB4"/>
<rect x="457" y="279" width="5" height="31" fill="#D9D9D9"/>
<rect x="464" y="294" width="5" height="16" fill="#3A5FCD"/>
<rect x="471" y="292" width="5" height="18" fill="#1E90FF"/>
<rect x="478" y="285" width="5" height="25" fill="#CDB79E"/>
<rect x="485" y="284" width="5" height="26" fill="#CDB79E"/>
<rect x="492" y="284" width="5" height="26" fill="#FFD39B"/>
<rect x="499" y="293" width="5" height="17" fill="#A6A6A6"/>
<rect x="506" y="282" width="5" height="28" fill="#008B45"/>
<rect x="513" y="281" width="5" height="29" fill="#EED5D2"/>
<rect x="520" y="282" width="5" height="28" fill="#EED5D2"/>
<rect x="527" y="280" width="5" height="30" fill="#FF00FF"/>
<rect x="156" y="311" width="793" height="2" fill="#000080"/>
<rect x="156" y="359" width="793" height="1" fill="#661628"/>
<path fill-rule="evenodd" fill="#ff0000" d="M211.3,408.4 L227.0,402.2 L236.3,402.2 L252.2,408.4 L252.0,409 L238.0,406.9 L225.4,406.9 L211.5,409 Z M225.6,406.1 L231.6,403.1 L237.6,406.1 Z"/>
<path fill-rule="evenodd" fill="#ff0000" d="M529.3,408.4 L545.0,402.2 L554.3,402.2 L570.2,408.4 L570.0,409 L556.0,406.9 L543.4,406.9 L529.5,409 Z M543.6,406.1 L549.6,403.1 L555.6,406.1 Z"/>
<rect x="213" y="409.5" width="40" height="1.5" fill="#d8d8a8"/>
<rect x="534" y="409" width="40" height="1" fill="#8080ff"/>
<rect x="532" y="410" width="38" height="1" fill="#e0e0a0"/>
<text x="56.50" y="13" fill="#000000" stroke="#000000" font-size="13.0" textLength="96.43" lengthAdjust="spacing">Window Position</text>
<text x="118.20" y="30" fill="#000000" stroke="#000000" font-size="13.0" textLength="33.91" lengthAdjust="spacing">Scale</text>
<text x="116.00" y="47" fill="#000000" stroke="#000000" font-size="13.0" textLength="36.02" lengthAdjust="spacing">chr17:</text>
<text x="96.50" y="92" fill="#0c70b4" stroke="#0c70b4" font-size="13.0" textLength="53.74" lengthAdjust="spacing" transform="matrix(1,0,0,1.077,0,-7.084)">PITPNC1</text>
<text x="96.50" y="108" fill="#0c0c78" stroke="#0c0c78" font-size="13.0" textLength="53.74" lengthAdjust="spacing" transform="matrix(1,0,0,1.077,0,-8.316)">PITPNC1</text>
<text x="59.80" y="138" fill="#0c0c78" stroke="#0c0c78" font-size="13.0" textLength="92.16" lengthAdjust="spacing">RefSeq Curated</text>
<text x="86.50" y="170" fill="#000000" stroke="#000000" font-size="13.0" textLength="65.06" lengthAdjust="spacing">Sequences</text>
<text x="117.70" y="186" fill="#000000" stroke="#000000" font-size="13.0" textLength="33.23" lengthAdjust="spacing">SNPs</text>
<text x="74.20" y="217" fill="#005a00" stroke="#005a00" font-size="13.0" textLength="77.63" lengthAdjust="spacing">OMIM Genes</text>
<text x="26.50" y="248" fill="#000000" stroke="#000000" font-size="13.0" textLength="125.77" lengthAdjust="spacing">Common dbSNP(155)</text>
<text x="96.50" y="296" fill="#000000" stroke="#000000" font-size="13.0" textLength="53.62" lengthAdjust="spacing" transform="matrix(1,0,0,1.077,0,-22.792)">PITPNC1</text>
<text x="12.20" y="342" fill="#000000" stroke="#000000" font-size="13.0" textLength="105.52" lengthAdjust="spacing">Layered H3K27Ac</text>
<text x="116.20" y="373" fill="#3c3c8c" stroke="#3c3c8c" font-size="13.0" textLength="35.08" lengthAdjust="spacing">4.88 _</text>
<text x="13.00" y="398" fill="#3c3c8c" stroke="#3c3c8c" font-size="13.0" textLength="85.68" lengthAdjust="spacing">100 Vert. Cons</text>
<text x="119.60" y="423" fill="#963c3c" stroke="#963c3c" font-size="13.0" textLength="31.69" lengthAdjust="spacing">-4.5 _</text>
<text x="121.50" y="454" fill="#e08010" stroke="#e08010" font-size="13.0" textLength="29.74" lengthAdjust="spacing">Gaps</text>
<text x="110.70" y="469" fill="#0c0c78" stroke="#0c0c78" font-size="13.0" textLength="41.67" lengthAdjust="spacing">Human</text>
<text x="108.00" y="484" fill="#0c0c78" stroke="#0c0c78" font-size="13.0" textLength="43.48" lengthAdjust="spacing">Rhesus</text>
<text x="112.80" y="499" fill="#005a00" stroke="#005a00" font-size="13.0" textLength="38.66" lengthAdjust="spacing">Mouse</text>
<text x="128.80" y="514" fill="#0c0c78" stroke="#0c0c78" font-size="13.0" textLength="23.41" lengthAdjust="spacing">Dog</text>
<text x="100.70" y="529" fill="#005a00" stroke="#005a00" font-size="13.0" textLength="51.10" lengthAdjust="spacing">Elephant</text>
<text x="105.40" y="544" fill="#005a00" stroke="#005a00" font-size="13.0" textLength="47.09" lengthAdjust="spacing">Chicken</text>
<text x="84.40" y="559" fill="#0c0c78" stroke="#0c0c78" font-size="13.0" textLength="67.31" lengthAdjust="spacing">X_tropicalis</text>
<text x="98.00" y="574" fill="#005a00" stroke="#005a00" font-size="13.0" textLength="53.64" lengthAdjust="spacing">Zebrafish</text>
<text x="67.80" y="604" fill="#000000" stroke="#000000" font-size="13.0" textLength="83.13" lengthAdjust="spacing">RepeatMasker</text>
<text x="346.00" y="12" fill="#000000" stroke="#000000" font-size="13.0" textLength="195.31" lengthAdjust="spacing">Human Feb. 2009 (GRCh37/hg19)</text>
<text x="553.90" y="12" fill="#000000" stroke="#000000" font-size="13.0" textLength="203.84" lengthAdjust="spacing">chr17:65,518,538-65,518,542 (5 bp)</text>
<text x="345.40" y="29" fill="#000000" stroke="#000000" font-size="13.0" textLength="44.61" lengthAdjust="spacing">2 bases</text>
<text x="721.10" y="29" fill="#000000" stroke="#000000" font-size="13.0" textLength="27.19" lengthAdjust="spacing">hg19</text>
<text x="248.40" y="47" fill="#000000" stroke="#000000" font-size="13.0" textLength="62.97" lengthAdjust="spacing">65,518,538</text>
<text x="407.20" y="47" fill="#000000" stroke="#000000" font-size="13.0" textLength="63.63" lengthAdjust="spacing">65,518,539</text>
<text x="565.20" y="47" fill="#000000" stroke="#000000" font-size="13.0" textLength="62.63" lengthAdjust="spacing">65,518,540</text>
<text x="724.20" y="47" fill="#000000" stroke="#000000" font-size="13.0" textLength="62.30" lengthAdjust="spacing">65,518,541</text>
<text x="432.50" y="78" fill="#000000" stroke="#000000" font-size="13.0" textLength="239.55" lengthAdjust="spacing">GENCODE V49lift37 (2 items filtered out)</text>
<text x="490.90" y="124" fill="#000000" stroke="#000000" font-size="11.5" textLength="123.38" lengthAdjust="spacing">RefSeq genes from NCBI</text>
<text x="444.70" y="155" fill="#000000" stroke="#000000" font-size="11.5" textLength="214.49" lengthAdjust="spacing">Publications: Sequences in Scientific Articles</text>
<text x="368.50" y="203" fill="#005a00" stroke="#005a00" font-size="13.0" textLength="368.62" lengthAdjust="spacing">OMIM Gene Phenotypes - Dark Green Can Be Disease-causing</text>
<text x="435.40" y="233" fill="#000000" stroke="#000000" font-size="11.5" textLength="232.62" lengthAdjust="spacing">Short Genetic Variants from dbSNP release 155</text>
<text x="266.60" y="265" fill="#000000" stroke="#000000" font-size="13.0" textLength="571.19" lengthAdjust="spacing">Gene Expression in 54 tissues from GTEx RNA-seq of 17382 samples, 948 donors (V8, Aug 2019)</text>
<text x="280.50" y="328" fill="#000000" stroke="#000000" font-size="13.0" textLength="542.40" lengthAdjust="spacing">H3K27Ac Mark (Often Found Near Active Regulatory Elements) on 7 cell lines from ENCODE</text>
<text x="404.70" y="374" fill="#3c3c8c" stroke="#3c3c8c" font-size="13.0" textLength="294.19" lengthAdjust="spacing">100 vertebrates Basewise Conservation by PhyloP</text>
<text x="444.30" y="440" fill="#0c0c78" stroke="#0c0c78" font-size="13.0" textLength="214.72" lengthAdjust="spacing">Multiz Alignments of 100 Vertebrates</text>
<text x="440.80" y="590" fill="#000000" stroke="#000000" font-size="13.0" textLength="222.46" lengthAdjust="spacing">Repeating Elements by RepeatMasker</text>
<text x="233.5" y="61" fill="#000000" stroke="#000000" font-size="13.0" text-anchor="middle" transform="matrix(1,0,0,1.077,0,-4.697)">A</text>
<text x="391.5" y="61" fill="#000000" stroke="#000000" font-size="13.0" text-anchor="middle" transform="matrix(1,0,0,1.077,0,-4.697)">T</text>
<text x="550.5" y="61" fill="#000000" stroke="#000000" font-size="13.0" text-anchor="middle" transform="matrix(1,0,0,1.077,0,-4.697)">A</text>
<text x="709.5" y="61" fill="#000000" stroke="#000000" font-size="13.0" text-anchor="middle" transform="matrix(1,0,0,1.077,0,-4.697)">T</text>
<text x="868" y="61" fill="#000000" stroke="#000000" font-size="13.0" text-anchor="middle" transform="matrix(1,0,0,1.077,0,-4.697)">T</text>
<text x="233.5" y="469" fill="#0c0c78" stroke="#0c0c78" font-size="13.0" text-anchor="middle" transform="matrix(1,0,0,1.077,0,-36.113)">A</text>
<text x="391.5" y="469" fill="#0c0c78" stroke="#0c0c78" font-size="13.0" text-anchor="middle" transform="matrix(1,0,0,1.077,0,-36.113)">T</text>
<text x="550.5" y="469" fill="#0c0c78" stroke="#0c0c78" font-size="13.0" text-anchor="middle" transform="matrix(1,0,0,1.077,0,-36.113)">A</text>
<text x="709.5" y="469" fill="#0c0c78" stroke="#0c0c78" font-size="13.0" text-anchor="middle" transform="matrix(1,0,0,1.077,0,-36.113)">T</text>
<text x="868" y="469" fill="#0c0c78" stroke="#0c0c78" font-size="13.0" text-anchor="middle" transform="matrix(1,0,0,1.077,0,-36.113)">T</text>
<text x="233.5" y="484" fill="#0c0c78" stroke="#0c0c78" font-size="13.0" text-anchor="middle" transform="matrix(1,0,0,1.077,0,-37.268)">A</text>
<text x="391.5" y="484" fill="#7c7cac" stroke="#7c7cac" font-size="13.0" text-anchor="middle" transform="matrix(1,0,0,1.077,0,-37.268)">G</text>
<text x="550.5" y="484" fill="#0c0c78" stroke="#0c0c78" font-size="13.0" text-anchor="middle" transform="matrix(1,0,0,1.077,0,-37.268)">A</text>
<text x="709.5" y="484" fill="#0c0c78" stroke="#0c0c78" font-size="13.0" text-anchor="middle" transform="matrix(1,0,0,1.077,0,-37.268)">T</text>
<text x="868" y="484" fill="#0c0c78" stroke="#0c0c78" font-size="13.0" text-anchor="middle" transform="matrix(1,0,0,1.077,0,-37.268)">T</text>
<text x="233.5" y="499" fill="#7c7cac" stroke="#7c7cac" font-size="13.0" text-anchor="middle" transform="matrix(1,0,0,1.077,0,-38.423)">C</text>
<text x="391.5" y="499" fill="#0c0c78" stroke="#0c0c78" font-size="13.0" text-anchor="middle" transform="matrix(1,0,0,1.077,0,-38.423)">T</text>
<text x="550.5" y="499" fill="#7c7cac" stroke="#7c7cac" font-size="13.0" text-anchor="middle" transform="matrix(1,0,0,1.077,0,-38.423)">G</text>
<text x="709.5" y="499" fill="#0c0c78" stroke="#0c0c78" font-size="13.0" text-anchor="middle" transform="matrix(1,0,0,1.077,0,-38.423)">T</text>
<text x="868" y="499" fill="#7c7cac" stroke="#7c7cac" font-size="13.0" text-anchor="middle" transform="matrix(1,0,0,1.077,0,-38.423)">A</text>
<text x="233.5" y="514" fill="#0c0c78" stroke="#0c0c78" font-size="13.0" text-anchor="middle" transform="matrix(1,0,0,1.077,0,-39.578)">A</text>
<text x="391.5" y="514" fill="#0c0c78" stroke="#0c0c78" font-size="13.0" text-anchor="middle" transform="matrix(1,0,0,1.077,0,-39.578)">T</text>
<text x="550.5" y="514" fill="#0c0c78" stroke="#0c0c78" font-size="13.0" text-anchor="middle" transform="matrix(1,0,0,1.077,0,-39.578)">A</text>
<text x="709.5" y="514" fill="#7c7cac" stroke="#7c7cac" font-size="13.0" text-anchor="middle" transform="matrix(1,0,0,1.077,0,-39.578)">G</text>
<text x="868" y="514" fill="#0c0c78" stroke="#0c0c78" font-size="13.0" text-anchor="middle" transform="matrix(1,0,0,1.077,0,-39.578)">T</text>
<text x="233.5" y="529" fill="#0c0c78" stroke="#0c0c78" font-size="13.0" text-anchor="middle" transform="matrix(1,0,0,1.077,0,-40.733)">A</text>
<text x="391.5" y="529" fill="#0c0c78" stroke="#0c0c78" font-size="13.0" text-anchor="middle" transform="matrix(1,0,0,1.077,0,-40.733)">T</text>
<text x="550.5" y="529" fill="#0c0c78" stroke="#0c0c78" font-size="13.0" text-anchor="middle" transform="matrix(1,0,0,1.077,0,-40.733)">A</text>
<text x="709.5" y="529" fill="#0c0c78" stroke="#0c0c78" font-size="13.0" text-anchor="middle" transform="matrix(1,0,0,1.077,0,-40.733)">T</text>
<text x="868" y="529" fill="#0c0c78" stroke="#0c0c78" font-size="13.0" text-anchor="middle" transform="matrix(1,0,0,1.077,0,-40.733)">T</text>
</svg>
</body></html>
